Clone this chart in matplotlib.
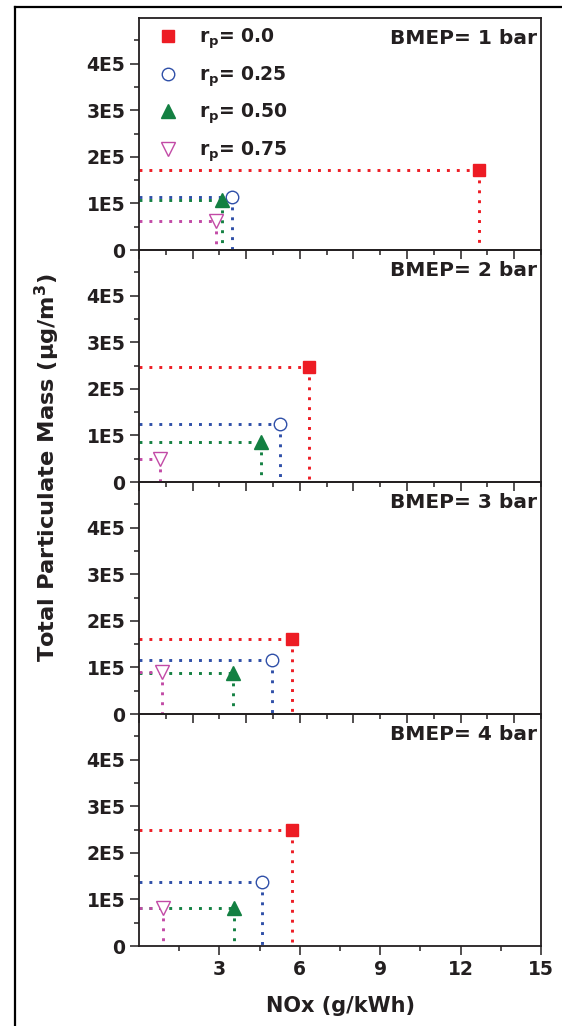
import matplotlib
matplotlib.use("Agg")
import matplotlib.pyplot as plt
from matplotlib.lines import Line2D

plt.rcParams['font.family'] = ['DejaVu Sans']
plt.rcParams['font.weight'] = 'bold'
plt.rcParams['mathtext.fontset'] = 'dejavusans'

# ---- data: NOx vs total particulate mass for each BMEP load ----
bmep_labels = ["BMEP= 1 bar", "BMEP= 2 bar", "BMEP= 3 bar", "BMEP= 4 bar"]
rp_labels = [r"r$_\mathbf{p}$= 0.0", r"r$_\mathbf{p}$= 0.25",
             r"r$_\mathbf{p}$= 0.50", r"r$_\mathbf{p}$= 0.75"]

nox_bmep1 = [12.68, 3.46, 3.11, 2.87]
pm_bmep1 = [1.71e5, 1.13e5, 1.07e5, 0.62e5]
nox_bmep2 = [6.35, 5.26, 4.55, 0.80]
pm_bmep2 = [2.46e5, 1.24e5, 0.85e5, 0.50e5]
nox_bmep3 = [5.70, 4.95, 3.50, 0.85]
pm_bmep3 = [1.62e5, 1.15e5, 0.88e5, 0.91e5]
nox_bmep4 = [5.70, 4.60, 3.56, 0.91]
pm_bmep4 = [2.50e5, 1.38e5, 0.82e5, 0.82e5]

ytick_vals = [0, 1e5, 2e5, 3e5, 4e5]
ytick_text = ["0", "1E5", "2E5", "3E5", "4E5"]
xtick_vals = [3, 6, 9, 12, 15]

nox_all = [nox_bmep1, nox_bmep2, nox_bmep3, nox_bmep4]
pm_all = [pm_bmep1, pm_bmep2, pm_bmep3, pm_bmep4]

# marker styles per r_p series
colors = ["#ED1C24", "#2F4FA8", "#138042", "#C24AA6"]
markers = ["s", "o", "^", "v"]
msizes = [8, 9, 10, 10]
filled = [True, False, True, False]

ink = "#231F20"
dotted = (0, (1, 2.4))
W, H = 562, 1026
fig = plt.figure(figsize=(W / 100, H / 100), dpi=100)
left, right = 139 / W, 541 / W
top, bottom = 1 - 18 / H, 1 - 946 / H
gs = fig.add_gridspec(4, 1, left=left, right=right, top=top, bottom=bottom, hspace=0)

axes = []
for i in range(4):
    ax = fig.add_subplot(gs[i])
    ax.set_facecolor("none")
    axes.append(ax)
    for j in range(4):
        x, y = nox_all[i][j], pm_all[i][j]
        c = colors[j]
        ax.plot([0, x], [y, y], ls=dotted, lw=2.1, color=c, zorder=2)
        ax.plot([x, x], [y, 0], ls=dotted, lw=2.1, color=c, zorder=2)
        ax.plot([x], [y], ls="none", marker=markers[j], ms=msizes[j],
                mfc=c if filled[j] else "white", mec=c,
                mew=1.0, label=rp_labels[j], zorder=3)

    ax.set_xlim(0, 15)
    ax.set_ylim(0, 4.98e5)
    ax.set_yticks(ytick_vals)
    ax.set_yticklabels(ytick_text)
    ax.set_yticks([0.5e5, 1.5e5, 2.5e5, 3.5e5, 4.5e5], minor=True)
    if i < 3:
        ax.set_xticks(range(0, 15, 2))
        ax.set_xticks(range(1, 16, 2), minor=True)
        ax.tick_params(axis="x", which="both", labelbottom=False)
    else:
        ax.set_xticks(xtick_vals)
        ax.set_xticks([1.5, 4.5, 7.5, 10.5, 13.5], minor=True)
        ax.set_xlabel("NOx (g/kWh)", fontsize=15, fontweight="bold",
                      color=ink, labelpad=12)

    ax.tick_params(which="major", direction="out", length=6.5, width=1.1,
                   color=ink, labelsize=13.5, labelcolor=ink, pad=3.5)
    ax.tick_params(which="minor", direction="out", length=3.5, width=1.1,
                   color=ink)
    ax.tick_params(top=False, right=False)
    for s in ax.spines.values():
        s.set_linewidth(1.3)
        s.set_color(ink)

    ax.text(0.99, 0.91, bmep_labels[i], transform=ax.transAxes, ha="right",
            va="center", fontsize=14.5, fontweight="bold", color=ink)

leg = axes[0].legend(loc="upper left", bbox_to_anchor=(0.015, 1.02),
                     frameon=False, fontsize=13.5, handlelength=1.0,
                     handletextpad=1.2, labelspacing=0.7, borderaxespad=0.3)
for t in leg.get_texts():
    t.set_color(ink)

fig.text(47 / W, 1 - 468 / H, r"Total Particulate Mass (μg/m$^\mathbf{3}$)",
         rotation=90, ha="center", va="center", fontsize=16.2,
         fontweight="bold", color=ink)

# outer frame lines (left and top)
fig.add_artist(Line2D([15 / W, 15 / W], [0, 1 - 7 / H], transform=fig.transFigure,
                      color="black", lw=1.6))
fig.add_artist(Line2D([15 / W, 1], [1 - 7 / H, 1 - 7 / H], transform=fig.transFigure,
                      color="black", lw=1.6))

fig.savefig("out.png", dpi=100)
